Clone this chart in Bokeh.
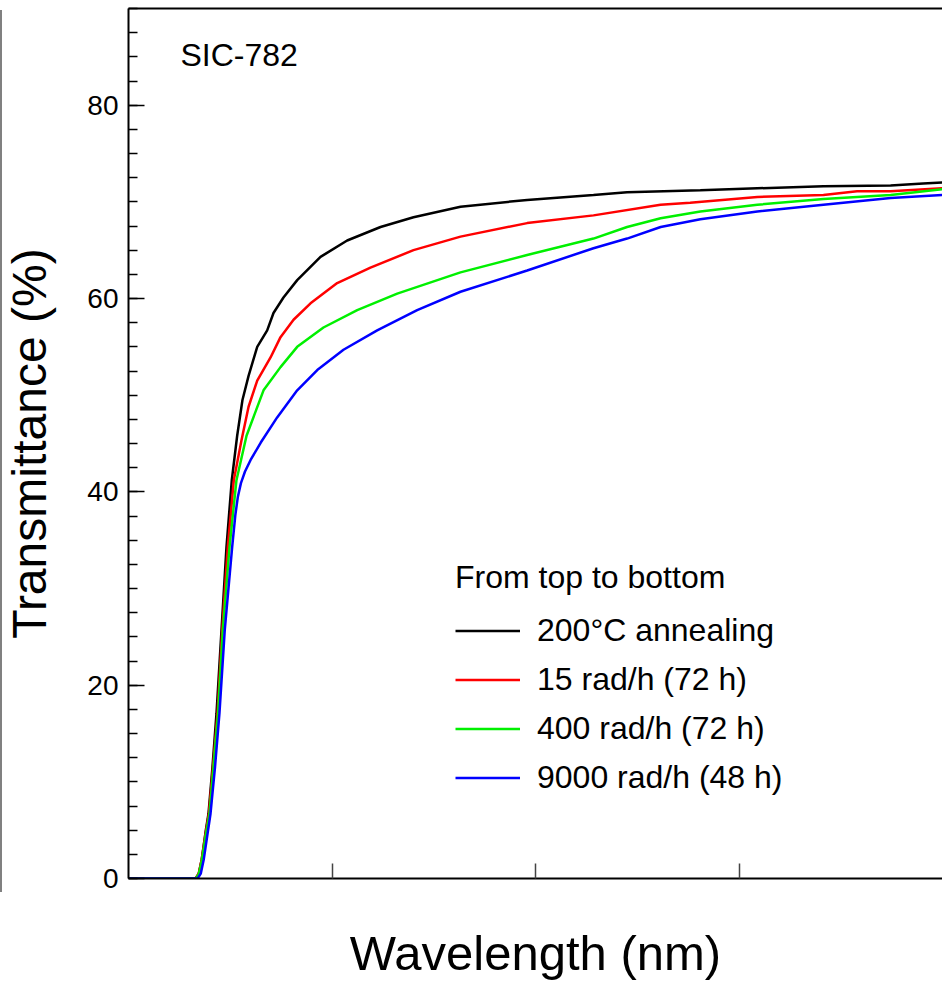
from bokeh.plotting import figure
from bokeh.models import (Range1d, SingleIntervalTicker, FixedTicker, LinearAxis,
                          Legend, LegendItem, Label, InlineStyleSheet)
from bokeh.embed import file_html
from bokeh.resources import INLINE

FONT = "Liberation Sans"

# Transmittance spectra of SIC-782 after different treatments
wl_anneal = [200, 266, 269, 272, 276, 278.6, 282.5, 286.5, 291.4, 296.3, 301.5, 306.8, 312, 318,
             326.5, 336.3, 342.5, 352.3, 365.8, 388.7, 414.9, 447.7, 480.1, 526.3, 591.8,
             657, 690, 762, 818, 883, 949, 981, 1000]
t_anneal = [0, 0, 0.5, 2.0, 5.0, 6.7, 11.5, 17.1, 25.7, 34.3, 41.2, 45.8, 49.5, 52.0,
            55.0, 56.7, 58.5, 60.1, 61.9, 64.3, 66.0, 67.4, 68.4, 69.5, 70.2,
            70.7, 71.0, 71.2, 71.4, 71.6, 71.7, 71.9, 72.0]

wl_15 = [200, 266, 269, 272, 276, 279, 283, 287.5, 292.1, 297.6, 303.5, 311, 318, 326.5,
         339.6, 349.4, 362.2, 378.9, 405.1, 437.8, 480.1, 526.3, 591.8, 657, 722.9,
         752, 818, 883, 916, 949, 1000]
t_15 = [0, 0, 0.5, 2.0, 4.8, 6.7, 11.5, 17.1, 25.7, 34.3, 41.2, 45.3, 48.8, 51.5,
        53.9, 56.0, 57.8, 59.5, 61.6, 63.2, 65.0, 66.4, 67.8, 68.6, 69.7,
        69.9, 70.5, 70.7, 71.1, 71.1, 71.4]

wl_400 = [200, 266, 269, 272, 276, 279.6, 283.5, 288, 292.7, 299.3, 306.1, 316, 332.7,
          349.4, 365.8, 391.6, 424.8, 464.1, 526.3, 591.8, 657, 690, 723, 762, 818,
          883, 949, 1000]
t_400 = [0, 0, 0.4, 1.8, 4.5, 6.7, 11.5, 17.1, 25.7, 34.3, 41.2, 45.8, 50.5,
         52.9, 55.0, 57.0, 58.8, 60.5, 62.7, 64.5, 66.2, 67.4, 68.3, 69.0, 69.7,
         70.3, 70.7, 71.3]

wl_9000 = [200, 268, 271, 274, 277.5, 280.6, 285, 289.4, 294.6, 301.9, 305, 307.5, 310.5,
           314.5, 320, 330, 346.1, 365.8, 385.5, 411.3, 444.4, 483.7, 526.3, 591.8, 657,
           690, 723, 762, 818, 883, 949, 1000]
t_9000 = [0, 0, 0.5, 2.0, 4.5, 6.7, 11.5, 17.1, 25.7, 34.3, 37.6, 39.5, 40.9,
          42.1, 43.3, 45.1, 47.7, 50.5, 52.6, 54.7, 56.7, 58.8, 60.7, 62.9, 65.2,
          66.2, 67.4, 68.2, 69.0, 69.7, 70.4, 70.7]

series = [
    ("200°C annealing", wl_anneal, t_anneal, "#000000"),
    ("15 rad/h (72 h)", wl_15, t_15, "#ff0000"),
    ("400 rad/h (72 h)", wl_400, t_400, "#00f000"),
    ("9000 rad/h (48 h)", wl_9000, t_9000, "#0000ff"),
]

x_ticks = [400, 600, 800]

p = figure(width=942, height=982, output_backend="svg", toolbar_location=None,
           x_range=Range1d(200, 1000), y_range=Range1d(0, 90),
           min_border_left=128, min_border_right=0, min_border_top=8, min_border_bottom=104)
p.outline_line_color = None
p.xgrid.visible = False
p.ygrid.visible = False
p.background_fill_color = "white"
p.border_fill_color = "white"

# y axis: labelled every 20, minor ticks every 2.5, all pointing inward
ya = p.yaxis[0]
ya.ticker = SingleIntervalTicker(interval=20, num_minor_ticks=8)
ya.axis_label = "Transmittance (%)"
ya.axis_label_text_font = FONT
ya.axis_label_text_font_size = "48px"
ya.axis_label_text_font_style = "normal"
ya.axis_label_text_color = "black"
ya.axis_label_standoff = 28
ya.major_label_text_font = FONT
ya.major_label_text_font_size = "28px"
ya.major_label_text_color = "black"
ya.major_label_standoff = 10
ya.major_tick_in = 16
ya.major_tick_out = 0
ya.minor_tick_in = 9
ya.minor_tick_out = 0
ya.axis_line_width = 2
ya.major_tick_line_width = 1.5
ya.minor_tick_line_width = 1.5

# x axis: ticks without numbers, plus the axis title
xa = p.xaxis[0]
xa.ticker = FixedTicker(ticks=x_ticks)
xa.major_label_overrides = {t: "" for t in x_ticks}
xa.major_label_text_font_size = "1px"
xa.major_label_standoff = 0
xa.axis_label = "Wavelength (nm)"
xa.axis_label_text_font = FONT
xa.axis_label_text_font_size = "49px"
xa.axis_label_text_font_style = "normal"
xa.axis_label_text_color = "black"
xa.axis_label_standoff = 47
xa.major_tick_in = 15
xa.major_tick_out = 0
xa.minor_tick_line_color = None
xa.axis_line_width = 2
xa.major_tick_line_width = 1.5
xa.major_tick_line_color = "#444444"

# top edge of the frame: a bare axis line
top = LinearAxis(ticker=FixedTicker(ticks=x_ticks),
                 major_label_overrides={t: "" for t in x_ticks},
                 major_label_text_font_size="1px", major_label_standoff=0,
                 major_tick_line_color=None, minor_tick_line_color=None,
                 major_tick_in=0, major_tick_out=0, axis_line_width=2,
                 axis_line_color="black")
p.add_layout(top, "above")

items = []
for name, wl, t, color in series:
    r = p.line(wl, t, line_color=color, line_width=2.5)
    items.append(LegendItem(label=name, renderers=[r]))

legend = Legend(items=items, title="From top to bottom", location=(327, 80),
                border_line_color=None, background_fill_alpha=0,
                padding=0, margin=0, spacing=8,
                glyph_width=65, glyph_height=41, label_height=41, label_standoff=17,
                label_text_font=FONT, label_text_font_size="32px", label_text_color="black",
                title_text_font=FONT, title_text_font_size="32px", title_text_color="black",
                title_text_font_style="normal", title_standoff=14)
p.add_layout(legend, "center")

p.add_layout(Label(x=251, y=85.2, text="SIC-782", text_font=FONT, text_font_size="32px",
                   text_color="black", text_baseline="middle", text_align="left"))

# thin rule along the left edge of the page
p.stylesheets = [InlineStyleSheet(css=(
    ":host::before { content: ''; position: absolute; left: 0; top: 10px; "
    "width: 2px; height: 882px; background: #808080; z-index: 10; }"))]

open("out.html", "w").write(file_html(p, INLINE))
